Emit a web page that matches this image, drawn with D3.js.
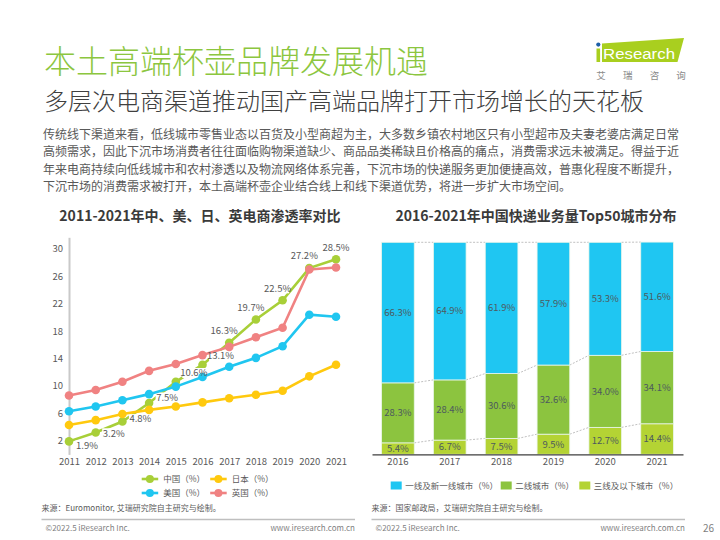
<!DOCTYPE html>
<html><head><meta charset="utf-8">
<script src="https://cdn.jsdelivr.net/npm/d3@7"></script>
<style>
html,body{margin:0;padding:0;background:#fff;}
svg{display:block;font-family:"Noto Sans CJK SC","Microsoft YaHei",sans-serif;}
</style></head>
<body>
<svg id="c" width="720" height="540"></svg>
<script>
// ---------- data ----------
const years = ["2011","2012","2013","2014","2015","2016","2017","2018","2019","2020","2021"];
const chinaVals = [1.9, 3.2, 4.8, 7.5, 10.6, 13.1, 16.3, 19.7, 22.5, 27.2, 28.5];
const japanVals = [4.3, 5.0, 5.9, 6.5, 7.0, 7.6, 8.2, 8.7, 9.3, 11.4, 13.1];
const usaVals   = [6.3, 7.0, 7.9, 8.8, 9.9, 11.3, 12.8, 14.1, 15.8, 20.4, 20.1];
const ukVals    = [8.6, 9.4, 10.6, 12.2, 13.2, 14.5, 15.7, 17.1, 18.5, 27.0, 27.3];
const seriesNames = ["中国（%）","日本（%）","美国（%）","英国（%）"];
const yTicks = [2, 6, 10, 14, 18, 22, 26, 30];

const years2 = ["2016","2017","2018","2019","2020","2021"];
const tier1Vals = [66.3, 64.9, 61.9, 57.9, 53.3, 51.6];
const tier2Vals = [28.3, 28.4, 30.6, 32.6, 34.0, 34.1];
const tier3Vals = [5.4, 6.7, 7.5, 9.5, 12.7, 14.4];
const tierNames = ["一线及新一线城市（%）","二线城市（%）","三线及以下城市（%）"];

const titleText = "本土高端杯壶品牌发展机遇";
const subtitleText = "多层次电商渠道推动国产高端品牌打开市场增长的天花板";
const bodyLines = [
  "传统线下渠道来看，低线城市零售业态以百货及小型商超为主，大多数乡镇农村地区只有小型超市及夫妻老婆店满足日常",
  "高频需求，因此下沉市场消费者往往面临购物渠道缺少、商品品类稀缺且价格高的痛点，消费需求远未被满足。得益于近",
  "年来电商持续向低线城市和农村渗透以及物流网络体系完善，下沉市场的快递服务更加便捷高效，普惠化程度不断提升，",
  "下沉市场的消费需求被打开，本土高端杯壶企业结合线上和线下渠道优势，将进一步扩大市场空间。"
];
const chart1Title = "2011-2021年中、美、日、英电商渗透率对比";
const chart2Title = "2016-2021年中国快递业务量Top50城市分布";
const source1 = "来源：Euromonitor, 艾瑞研究院自主研究与绘制。";
const source2 = "来源：国家邮政局，艾瑞研究院自主研究与绘制。";
const copyright = "©2022.5 iResearch Inc.";
const website = "www.iresearch.com.cn";
const pageNo = "26";

// ---------- drawing ----------
const svg = d3.select("#c");
const gray = "#595959";

// header
svg.append("text").attr("x",44).attr("y",72.5).attr("font-size",32).attr("fill","#8cc63f")
  .attr("font-weight",300).text(titleText);
svg.append("text").attr("x",44).attr("y",109.5).attr("font-size",24).attr("fill","#404040")
  .attr("font-weight",300).text(subtitleText);

// logo
const logo = svg.append("g");
logo.append("polygon").attr("points","602,43.5 684,38 677.5,62 602,62").attr("fill","#a9cf1f");
logo.append("rect").attr("x",596.5).attr("y",48.5).attr("width",3.6).attr("height",13.5).attr("fill","#a9cf1f");
logo.append("circle").attr("cx",598.3).attr("cy",44.6).attr("r",2.1).attr("fill","#1d5fa8");
logo.append("text").attr("x",603).attr("y",58.5).attr("font-size",15.5).attr("fill","#fff")
  .attr("font-family","Liberation Sans, Arial, sans-serif").attr("textLength",72).attr("lengthAdjust","spacingAndGlyphs").text("Research");
["艾","瑞","咨","询"].forEach((c,i)=>{
  logo.append("text").attr("x",601+i*26.7).attr("y",78.5).attr("font-size",9.5).attr("fill","#8a8a8a")
    .attr("text-anchor","middle").text(c);
});

// body text
bodyLines.forEach((t,i)=>{
  const tx = svg.append("text").attr("x",43).attr("y",138.5+i*17.5).attr("font-size",12).attr("fill",gray).text(t);
  if(i<3) tx.attr("textLength",636).attr("lengthAdjust","spacing");
});

// chart titles
svg.append("text").attr("x",200).attr("y",220.5).attr("text-anchor","middle").attr("font-size",14)
  .attr("font-weight","bold").attr("fill","#3a3a3a").text(chart1Title);
svg.append("text").attr("x",536).attr("y",220.5).attr("text-anchor","middle").attr("font-size",14)
  .attr("font-weight","bold").attr("fill","#3a3a3a").text(chart2Title);

// ---------- left chart: lines ----------
const x1 = d3.scalePoint().domain(years).range([69, 336]);
const y1 = d3.scaleLinear().domain([0, 31.7]).range([454.4, 237.3]);
const g1 = svg.append("g");

const yAx = g1.append("g").attr("transform","translate(69,0)")
  .call(d3.axisLeft(y1).tickValues(yTicks).tickSize(0).tickPadding(6));
yAx.select(".domain").attr("stroke","#c9c9c9").attr("stroke-width",2);
yAx.selectAll("text").attr("font-size",9.5).attr("fill",gray).attr("font-family","Noto Sans CJK SC, sans-serif");

const xAx = g1.append("g").attr("transform","translate(0,455)")
  .call(d3.axisBottom(x1).tickSize(0).tickPadding(3));
xAx.select(".domain").remove();
xAx.selectAll("text").attr("font-size",9.5).attr("fill",gray).attr("font-family","Noto Sans CJK SC, sans-serif");

const lineSeries = [
  {name:seriesNames[0], vals:chinaVals, color:"#a8cf38"},
  {name:seriesNames[1], vals:japanVals, color:"#ffc90e"},
  {name:seriesNames[2], vals:usaVals,   color:"#20c6f0"},
  {name:seriesNames[3], vals:ukVals,    color:"#f08282"}
];
const line = d3.line().x((d,i)=>x1(years[i])).y(d=>y1(d));
function drawSeries(s){
  const gs = g1.append("g");
  gs.append("path").attr("d",line(s.vals)).attr("fill","none").attr("stroke",s.color).attr("stroke-width",2.6);
  gs.selectAll("circle").data(s.vals).enter().append("circle")
    .attr("cx",(d,i)=>x1(years[i])).attr("cy",d=>y1(d)).attr("r",4.3).attr("fill",s.color);
}
drawSeries(lineSeries[0]);

// data labels for China (right of point for early years, above for later years)
const labBg = g1.append("g");
const labTx = [];
chinaVals.forEach((v,i)=>{
  const px = x1(years[i]), py = y1(v);
  let cx, cy;
  if(i<6){ cx = px+18; cy = py+4-Math.min(i,4)*3.2; } else { cx = px-(i===10?0:5); cy = py-12; }
  labBg.append("rect").attr("x",cx-11.5).attr("y",cy-5).attr("width",23).attr("height",10).attr("fill","#fff");
  labTx.push({cx, cy, t:`${v.toFixed(1)}%`});
});
lineSeries.slice(1).forEach(drawSeries);
const lab = g1.append("g");
labTx.forEach(d=>{
  lab.append("text").attr("x",d.cx).attr("y",d.cy+3.3).attr("text-anchor","middle").attr("font-size",9.5)
    .attr("fill",gray).text(d.t);
});

// left legend
lineSeries.forEach((s,i)=>{
  const lx = 141.7 + (i%2)*68.5, ly = 479 + Math.floor(i/2)*14;
  svg.append("line").attr("x1",lx).attr("x2",lx+16.5).attr("y1",ly).attr("y2",ly).attr("stroke",s.color).attr("stroke-width",2.6);
  svg.append("circle").attr("cx",lx+8.2).attr("cy",ly).attr("r",4).attr("fill",s.color);
  svg.append("text").attr("x",lx+21.5).attr("y",ly+3).attr("font-size",8.5).attr("fill",gray).text(s.name);
});

// ---------- right chart: stacked bars ----------
const x2 = d3.scaleBand().domain(years2).range([372, 683]).paddingInner(0.37).paddingOuter(0.185);
const y2 = d3.scaleLinear().domain([0, 100]).range([454.3, 242.3]);
const rows = years2.map((yr,i)=>({year:yr, t3:tier3Vals[i], t2:tier2Vals[i], t1:tier1Vals[i]}));
const keys = ["t3","t2","t1"];
const colors = {t3:"#b4d334", t2:"#8cc43f", t1:"#1fc6f2"};
const stacked = d3.stack().keys(keys)(rows);
const g2 = svg.append("g");

// connector dashed lines
stacked.forEach(layer=>{
  for(let i=0;i<rows.length-1;i++){
    g2.append("line")
      .attr("x1",x2(years2[i])+x2.bandwidth()).attr("y1",y2(layer[i][1]))
      .attr("x2",x2(years2[i+1])).attr("y2",y2(layer[i+1][1]))
      .attr("stroke","#b0b0b0").attr("stroke-width",0.8).attr("stroke-dasharray","2,1.5");
  }
});

stacked.forEach(layer=>{
  g2.append("g").selectAll("rect").data(layer).enter().append("rect")
    .attr("x",d=>x2(d.data.year)).attr("width",x2.bandwidth())
    .attr("y",d=>y2(d[1])).attr("height",d=>y2(d[0])-y2(d[1]))
    .attr("fill",colors[layer.key]).attr("stroke","#eaf6ea").attr("stroke-width",0.8);
  g2.append("g").selectAll("text").data(layer).enter().append("text")
    .attr("x",d=>x2(d.data.year)+x2.bandwidth()/2).attr("y",d=>(y2(d[0])+y2(d[1]))/2+3.3)
    .attr("text-anchor","middle").attr("font-size",9.5).attr("fill","#4d5a5e")
    .text(d=>`${d.data[layer.key].toFixed(1)}%`);
});

const xAx2 = g2.append("g").attr("transform","translate(0,454.3)")
  .call(d3.axisBottom(x2).tickSize(0).tickPadding(4));
xAx2.select(".domain").attr("stroke","#3f3f3f").attr("stroke-width",1.3);
xAx2.selectAll("text").attr("font-size",9.5).attr("fill",gray).attr("font-family","Noto Sans CJK SC, sans-serif");

// right legend
const legX = [390.7, 500.7, 579.3];
keys.slice().reverse().forEach((k,i)=>{
  svg.append("rect").attr("x",legX[i]).attr("y",481.5).attr("width",11).attr("height",8).attr("fill",colors[k]);
  svg.append("text").attr("x",legX[i]+14.5).attr("y",488.5).attr("font-size",8.5).attr("fill",gray).text(tierNames[i]);
});

// ---------- footers ----------
[[41.5,355,source1],[371.5,685,source2]].forEach(([a,b,src])=>{
  svg.append("text").attr("x",a).attr("y",511).attr("font-size",8).attr("fill",gray).text(src);
  svg.append("line").attr("x1",a).attr("x2",b).attr("y1",519.5).attr("y2",519.5).attr("stroke","#bfbfbf").attr("stroke-width",1.5);
  svg.append("text").attr("x",a+4).attr("y",531).attr("font-size",8).attr("fill","#7f7f7f").text(copyright);
  svg.append("text").attr("x",b).attr("y",531).attr("text-anchor","end").attr("font-size",8).attr("fill","#7f7f7f").text(website);
});
svg.append("text").attr("x",714).attr("y",532).attr("text-anchor","end").attr("font-size",10).attr("fill","#7f7f7f").text(pageNo);
</script>
</body></html>
